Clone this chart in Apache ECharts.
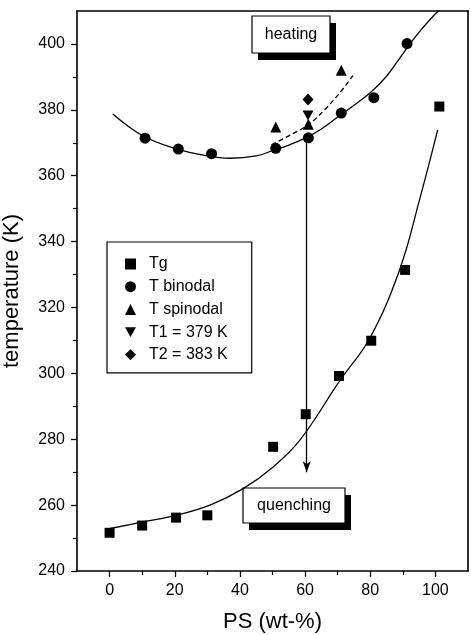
<!DOCTYPE html>
<html>
<head>
<meta charset="utf-8">
<script src="https://cdn.jsdelivr.net/npm/echarts@6/dist/echarts.min.js"></script>
<style>
  html, body { margin: 0; padding: 0; background: #fff; }
  #chart { width: 471px; height: 635px; }
</style>
</head>
<body>
<div id="chart"></div>
<script>
// measured points
const tgX = [0, 10, 20.4, 30, 50.2, 60.2, 70.4, 80.3, 90.7, 101.2]
const tgY = [251.6, 253.8, 256.2, 256.9, 277.7, 287.6, 299.2, 309.9, 331.4, 381]
const binodalX = [10.9, 21.1, 31.3, 51, 61, 71.1, 81.1, 91.3]
const binodalY = [371.4, 368.1, 366.7, 368.3, 371.5, 379, 383.7, 400.1]
const spinodalX = [51, 61, 71.1]
const spinodalY = [374.8, 375.6, 392]
const t1X = [60.9]
const t1Y = [378.3]
const t2X = [60.9]
const t2Y = [383.1]

// fitted curves
const binodalFitX = [1, 10, 20, 30, 37, 45, 50, 55, 60, 65, 70, 75, 80, 85, 90, 95, 101.2]
const binodalFitY = [378.7, 372.2, 368.3, 366.0, 365.3, 366.0, 367.6, 369.3, 371.4, 374.2, 377.8, 381.4, 385.2, 390.2, 397.0, 403.6, 410.4]
const spinodalFitX = [49.7, 55, 61, 66, 70.6, 74.7]
const spinodalFitY = [369.4, 372.1, 375.5, 380, 385.1, 390.4]
const tgFitX = [0.2, 10.2, 20.4, 30.8, 41, 50.2, 58.4, 70.6, 79.8, 89, 95.1, 100.7]
const tgFitY = [252.9, 254.9, 256.9, 260, 265, 271.6, 279.7, 297.7, 310.6, 331.4, 352.6, 373.9]

// quench arrow at 60 wt-%
const arrowX = 60.5
const arrowFrom = 371
const arrowTo = 270

// ticks
const xMajor = [0, 20, 40, 60, 80, 100]
const xMinor = [10, 30, 50, 70, 90]
const yMajor = [240, 260, 280, 300, 320, 340, 360, 380, 400]
const yMinor = [250, 270, 290, 310, 330, 350, 370, 390]

const FONT = '"Liberation Sans", Arial, Helvetica, sans-serif'
const zip = (xs, ys) => xs.map((x, i) => [x, ys[i]])

const chart = echarts.init(document.getElementById('chart'))

const AXIS_LINE = { show: true, onZero: false, lineStyle: { color: '#000', width: 1.6 } }
const NO_LINE = { show: false, onZero: false }

const baseAxis = {
  type: 'value',
  splitLine: { show: false },
  axisLine: AXIS_LINE,
  axisTick: { show: false },
  axisLabel: { show: false }
}

function scatter(name, symbol, size, xs, ys) {
  return {
    name: name,
    type: 'scatter',
    symbol: symbol,
    symbolSize: size,
    itemStyle: { color: '#000', opacity: 1 },
    data: zip(xs, ys),
    z: 5
  }
}

function fit(xs, ys, type) {
  return {
    type: 'line',
    data: zip(xs, ys),
    smooth: 0.4,
    showSymbol: false,
    symbol: 'none',
    silent: true,
    lineStyle: { color: '#000', width: 1.3, type: type || 'solid' },
    z: 2
  }
}

function box(x, y, w, h, text) {
  return {
    type: 'group',
    children: [
      { type: 'rect', shape: { x: x + 6, y: y + 7, width: w, height: h }, style: { fill: '#000' } },
      { type: 'rect', shape: { x: x, y: y, width: w, height: h }, style: { fill: '#fff', stroke: '#000', lineWidth: 1.2 } },
      {
        type: 'text',
        x: x + w / 2,
        y: y + h / 2,
        style: { text: text, font: '16px ' + FONT, fill: '#000', align: 'center', verticalAlign: 'middle' }
      }
    ]
  }
}

chart.setOption({
  animation: false,
  backgroundColor: '#fff',
  textStyle: { fontFamily: FONT, color: '#000' },
  grid: { left: 77, right: 3, top: 11, bottom: 64, outerBoundsMode: 'none' },
  legend: {
    orient: 'vertical',
    left: 107,
    top: 242,
    padding: [14, 24, 10, 18],
    itemGap: 6.7,
    itemWidth: 11,
    itemHeight: 11,
    borderColor: '#000',
    borderWidth: 1.2,
    backgroundColor: '#fff',
    textStyle: { fontFamily: FONT, fontSize: 16, color: '#000', lineHeight: 14, padding: [0, 0, 0, 8] },
    data: ['Tg', 'T binodal', 'T spinodal', 'T1 = 379 K', 'T2 = 383 K']
  },
  xAxis: [
    Object.assign({}, baseAxis, {
      position: 'bottom',
      min: -10,
      max: 110,
      name: 'PS (wt-%)',
      nameLocation: 'middle',
      nameGap: 40,
      nameTextStyle: { fontSize: 22, color: '#000', fontFamily: FONT },
      axisTick: { show: true, customValues: xMajor, length: 6, lineStyle: { color: '#000', width: 1.3 } },
      axisLabel: { show: true, customValues: xMajor, margin: 12, fontSize: 16, color: '#000', fontFamily: FONT }
    }),
    Object.assign({}, baseAxis, {
      position: 'bottom',
      min: -10,
      max: 110,
      axisLine: NO_LINE,
      axisTick: { show: true, customValues: xMinor, length: 4, lineStyle: { color: '#000', width: 1.2 } }
    }),
    Object.assign({}, baseAxis, { position: 'top', min: -10, max: 110 })
  ],
  yAxis: [
    Object.assign({}, baseAxis, {
      position: 'left',
      min: 240,
      max: 410,
      name: 'temperature (K)',
      nameLocation: 'middle',
      nameRotate: 90,
      nameGap: 54,
      nameTextStyle: { fontSize: 22, color: '#000', fontFamily: FONT },
      axisTick: { show: true, customValues: yMajor, length: 6, lineStyle: { color: '#000', width: 1.3 } },
      axisLabel: { show: true, customValues: yMajor, margin: 12, fontSize: 16, color: '#000', fontFamily: FONT }
    }),
    Object.assign({}, baseAxis, {
      position: 'left',
      min: 240,
      max: 410,
      axisLine: NO_LINE,
      axisTick: { show: true, customValues: yMinor, length: 4, lineStyle: { color: '#000', width: 1.2 } }
    }),
    Object.assign({}, baseAxis, { position: 'right', min: 240, max: 410 })
  ],
  series: [
    fit(binodalFitX, binodalFitY),
    fit(spinodalFitX, spinodalFitY, [5, 3]),
    fit(tgFitX, tgFitY),
    {
      type: 'line',
      data: [],
      silent: true,
      markLine: {
        silent: true,
        symbol: ['none', 'arrow'],
        symbolSize: [6, 11],
        label: { show: false },
        lineStyle: { color: '#000', width: 1.3, type: 'solid' },
        data: [[{ coord: [arrowX, arrowFrom] }, { coord: [arrowX, arrowTo] }]]
      }
    },
    scatter('Tg', 'rect', 10, tgX, tgY),
    scatter('T binodal', 'circle', 11, binodalX, binodalY),
    scatter('T spinodal', 'triangle', 11, spinodalX, spinodalY),
    scatter('T1 = 379 K', 'path://M0,0L10,0L5,9Z', [11, 10], t1X, t1Y),
    scatter('T2 = 383 K', 'diamond', [11, 12], t2X, t2Y)
  ],
  graphic: [
    box(252, 16, 78, 37, 'heating'),
    box(243, 488, 102, 35, 'quenching')
  ]
})
</script>
</body>
</html>
